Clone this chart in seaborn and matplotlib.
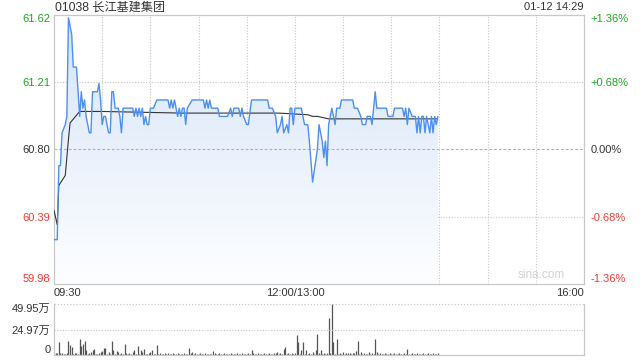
import numpy as np
import matplotlib
matplotlib.use("Agg")
import matplotlib.pyplot as plt
import seaborn as sns
from matplotlib.colors import LinearSegmentedColormap

# ---------------- data ----------------
title_text = "01038 长江基建集团"
stamp_text = "01-12 14:29"
prev_close = 60.80
price_min, price_max = 59.98, 61.62
price_ticks = [61.62, 61.21, 60.80, 60.39, 59.98]
price_tick_labels = ["61.62", "61.21", "60.80", "60.39", "59.98"]
pct_tick_labels = ["+1.36%", "+0.68%", "0.00%", "-0.68%", "-1.36%"]
time_tick_pos = [0, 150, 330]
time_tick_labels = ["09:30", "12:00/13:00", "16:00"]
vol_ticks = [49.95, 24.97, 0]
vol_tick_labels = ["49.95万", "24.97万", "0"]

# minute index since 09:30 (lunch break removed) and price
price_t = [0, 2, 3, 4, 5, 7, 8, 9, 11, 12,
           14, 15, 16, 17, 18, 19, 20, 22, 23, 24,
           27, 28, 29, 30, 31, 32, 33, 34, 35, 36,
           37, 38, 40, 41, 42, 43, 49, 50, 51, 52,
           53, 54, 55, 56, 57, 58, 59, 60, 62, 64,
           71, 72, 73, 74, 75, 77, 78, 79, 80, 81,
           82, 83, 86, 93, 94, 95, 96, 97, 98, 102,
           103, 108, 110, 111, 112, 115, 116, 117, 118, 120,
           121, 123, 133, 134, 136, 138, 139, 141, 142, 143,
           145, 146, 147, 148, 149, 150, 154, 156, 158, 159,
           161, 164, 165, 166, 167, 168, 169, 170, 171, 172,
           173, 174, 175, 176, 178, 179, 186, 187, 189, 191,
           192, 194, 195, 197, 198, 200, 201, 207, 208, 211,
           212, 217, 218, 219, 220, 221, 223, 225, 226, 227,
           228, 229, 230, 231, 232, 234, 235, 236, 237, 238,
           239]
price_v = [60.25, 60.25, 60.70, 60.70, 60.90, 60.95, 61.00, 61.60, 61.50, 61.30,
           61.30, 61.15, 61.00, 61.15, 61.05, 61.10, 61.00, 60.90, 60.90, 61.15,
           61.15, 61.20, 61.10, 60.95, 61.00, 61.00, 60.95, 60.90, 60.90, 61.15,
           61.15, 61.05, 61.05, 61.00, 60.90, 61.05, 61.05, 61.00, 61.05, 61.00,
           61.05, 61.00, 61.05, 60.95, 61.00, 60.95, 60.95, 61.05, 61.05, 61.10,
           61.10, 61.05, 61.10, 61.05, 61.10, 61.00, 61.05, 61.00, 61.05, 61.05,
           60.95, 61.05, 61.10, 61.10, 61.05, 61.10, 61.05, 61.10, 61.05, 61.05,
           61.00, 61.00, 61.05, 61.00, 61.05, 61.05, 61.00, 61.05, 61.00, 60.95,
           60.95, 61.10, 61.10, 61.05, 61.05, 61.00, 60.90, 60.95, 61.00, 60.90,
           60.95, 60.90, 61.05, 61.05, 60.95, 61.05, 61.05, 60.95, 60.95, 60.85,
           60.60, 60.80, 60.95, 60.90, 60.85, 60.75, 60.85, 60.70, 60.95, 61.00,
           61.05, 61.00, 60.95, 61.05, 61.05, 61.10, 61.10, 61.05, 61.05, 61.00,
           60.95, 60.95, 61.00, 61.00, 60.95, 61.15, 61.05, 61.05, 61.00, 61.00,
           61.05, 61.05, 61.00, 61.05, 60.95, 61.05, 61.00, 61.00, 60.90, 61.00,
           60.90, 61.00, 61.00, 60.90, 61.00, 60.90, 61.00, 60.90, 61.00, 60.95,
           61.00]

avg_t = [0, 2, 3, 5, 7, 9, 10, 16, 30, 80, 140, 158, 161, 164, 171, 239]
avg_v = [60.43, 60.34, 60.58, 60.61, 60.64, 60.86, 60.96, 61.03, 61.03, 61.02,
         61.02, 61.01, 61.00, 61.00, 60.985, 60.985]

# volume per minute, in 万 shares (minute 0..239)
volume = [2, 2, 1.5, 13, 2, 1.5, 1, 1, 1.5, 14,
          10, 8, 1, 1.5, 2, 1, 16, 9, 11, 14,
          5, 1, 1.5, 3, 5, 6, 1, 1, 1.7, 3,
          4, 7, 7, 1, 3, 1, 14, 5, 1, 4,
          3, 1, 2, 1, 11, 1.5, 1, 1.5, 1, 3,
          5, 1, 9, 1, 5, 3, 5.5, 1, 1, 1.5,
          3, 5, 1, 1, 10, 1, 1.5, 1, 1, 1.5,
          1, 1.5, 1, 1, 1.5, 1, 1, 1.5, 1, 1,
          1, 1.5, 1, 1, 7, 2.3, 3, 1, 1.5, 1,
          1, 1.5, 1, 1, 1.5, 1, 1, 1, 1, 4,
          1.5, 1, 1, 1.5, 1, 1, 1.5, 1, 1, 1,
          1.5, 1, 1, 1, 1.5, 1, 1, 1.5, 1, 1,
          1, 1.5, 1, 5, 1.5, 1, 1, 1.5, 1, 1,
          1, 1.5, 1, 1, 1.5, 1, 1, 1.5, 2, 3.3,
          1, 1.5, 1, 5.7, 7.7, 1, 1.5, 1, 2.3, 1,
          1.5, 20, 12.3, 1, 5, 12.3, 1, 5, 1, 1.5,
          1, 3.3, 1, 5, 21, 1.5, 5, 1, 1.7, 1,
          1.5, 36, 1.5, 49.95, 13, 1, 16, 1, 2.3, 1,
          3.3, 1, 2, 1.5, 2, 1, 2, 1.5, 4.3, 13.3,
          1, 3.3, 1, 1.5, 1, 1, 3.3, 1, 1.5, 1,
          16, 3.3, 1, 1.5, 1, 1, 1.5, 1, 1, 1.5,
          1, 1, 1.5, 1, 1, 1.5, 1, 1, 1.5, 1,
          6, 1, 1, 1.5, 1, 1, 1.5, 1, 1, 1,
          1.5, 1, 1, 1.5, 1, 1, 1.5, 1, 1, 1.5]
vol_t = list(range(len(volume)))

# ---------------- style ----------------
sns.set_theme(style="white")
plt.rcParams['font.family'] = ['Liberation Sans', 'Noto Sans CJK SC', 'DejaVu Sans']
TXT = '#333333'
GREEN = '#1ea51e'
RED = '#f03a32'
BORDER = '#c8c8c8'
GRID = '#c8c8c8'
LINE = '#4d8ff2'
FS = 8

fig = plt.figure(figsize=(6.4, 3.6), dpi=100)
ax = fig.add_axes([54/640, 1-284/360, 530/640, 269.5/360])
axv = fig.add_axes([54/640, 1-355/360, 530/640, 51/360])

# gradient fill under price
poly = ax.fill_between(price_t, price_v, price_min, color='none', linewidth=0)
cmap = LinearSegmentedColormap.from_list('g', ['#fdfeff', '#eaf1fc', '#d4e3fa'])
grad = np.linspace(0, 1, 256).reshape(-1, 1)
im = ax.imshow(grad, extent=[0, max(price_t), price_min, price_max], aspect='auto',
               cmap=cmap, origin='lower', zorder=1, interpolation='bilinear')
im.set_clip_path(poly.get_paths()[0], transform=ax.transData)

sns.lineplot(x=price_t, y=price_v, ax=ax, color=LINE, linewidth=1.0, zorder=4,
             sort=False, estimator=None)
sns.lineplot(x=avg_t, y=avg_v, ax=ax, color='#333333', linewidth=0.8, zorder=3,
             sort=False, estimator=None)

ax.set_xlim(0, 330)
ax.set_ylim(price_min, price_max)

# grid
for gx in range(30, 330, 30):
    ax.axvline(gx, color=GRID, linewidth=0.8, linestyle=(0, (1, 1.5)), zorder=0.5)
for gy in [61.21, 60.39]:
    ax.axhline(gy, color=GRID, linewidth=0.8, linestyle=(0, (1, 1.5)), zorder=0.5)
ax.axhline(prev_close, color='#b0b0b0', linewidth=0.8, linestyle=(0, (2.5, 1.8)), zorder=2)

for s in ax.spines.values():
    s.set_color(BORDER)
    s.set_linewidth(0.9)

ax.set_yticks(price_ticks)
ax.set_yticklabels(price_tick_labels)
ax.tick_params(axis='y', length=0, pad=2.5, labelsize=FS)
cols = [GREEN, GREEN, TXT, RED, RED]
for lab, c in zip(ax.get_yticklabels(), cols):
    lab.set_color(c)
ax.get_yticklabels()[0].set_va('top')
ax.get_yticklabels()[-1].set_va('bottom')

ax.set_xticks(time_tick_pos)
ax.set_xticklabels(time_tick_labels)
ax.tick_params(axis='x', length=0, pad=3, labelsize=FS, colors=TXT)
xl = ax.get_xticklabels()
xl[0].set_ha('left')
xl[-1].set_ha('right')
ax.set_xlabel('')
ax.set_ylabel('')

ax2 = ax.twinx()
ax2.set_ylim(price_min, price_max)
ax2.set_yticks(price_ticks)
ax2.set_yticklabels(pct_tick_labels)
ax2.tick_params(axis='y', length=0, pad=4.5, labelsize=FS)
for lab, c in zip(ax2.get_yticklabels(), cols):
    lab.set_color(c)
ax2.get_yticklabels()[0].set_va('top')
ax2.get_yticklabels()[-1].set_va('bottom')
for s in ax2.spines.values():
    s.set_visible(False)

ax.text(0.963, 0.012, 'sina.com', transform=ax.transAxes, ha='right', va='bottom',
        color='#d2d2d2', fontsize=8.5, zorder=5)

fig.text(55/640, 1-7.5/360, title_text, ha='left', va='center', fontsize=8.7, color=TXT)
fig.text(584/640, 1-7.5/360, stamp_text, ha='right', va='center', fontsize=8, color=TXT)

# volume
axv.vlines(vol_t, 0, volume, color='#555555', linewidth=0.9)
axv.set_xlim(0, 330)
axv.set_ylim(0, 49.95)
axv.axhline(24.97, color=GRID, linewidth=0.8, linestyle=(0, (1, 1.5)))
axv.spines['top'].set_visible(False)
axv.axhline(49.95, color=GRID, linewidth=0.9, linestyle=(0, (1, 1.5)), clip_on=False)
for k in ['left', 'right', 'bottom']:
    axv.spines[k].set_color(BORDER)
    axv.spines[k].set_linewidth(0.9)
axv.set_xticks([])
axv.set_yticks(vol_ticks)
axv.set_yticklabels(vol_tick_labels)
axv.tick_params(axis='y', length=0, pad=2.5, labelsize=FS, colors=TXT)
axv.get_yticklabels()[0].set_va('top')
axv.get_yticklabels()[-1].set_va('bottom')

fig.savefig('out.png', dpi=100)
